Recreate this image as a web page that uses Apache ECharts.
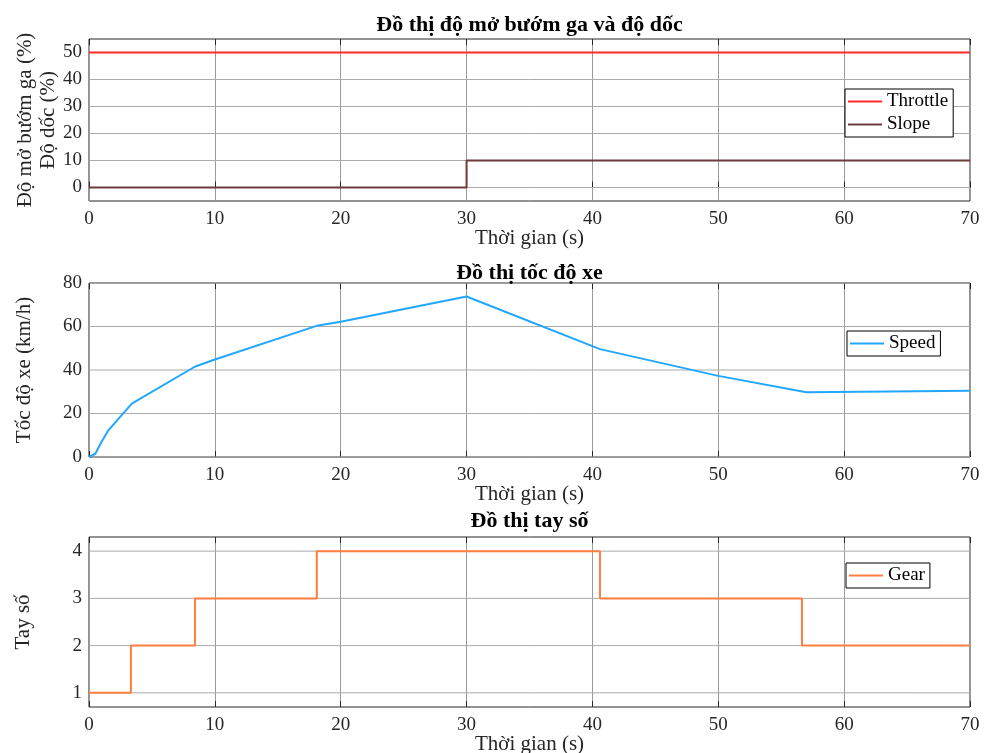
<!DOCTYPE html>
<html><head><meta charset="utf-8">
<script src="https://cdn.jsdelivr.net/npm/echarts@6/dist/echarts.min.js"></script>
<style>html,body{margin:0;padding:0;background:#fff}#c{width:985px;height:753px}</style>
</head><body><div id="c"></div>
<script>
// ---- data ----
const throttleT = [0, 70];
const throttleV = [50, 50];
const slopeT = [0, 30, 70];
const slopeV = [0, 10, 10];
const speedT = [0, 0.5, 0.9, 1.5, 3.4, 8.4, 10, 18.2, 20, 30, 40.6, 50, 57, 70];
const speedV = [0, 1.5, 6, 12, 24.5, 41.5, 44.8, 60.5, 62.2, 73.8, 49.6, 37.3, 29.8, 30.5];
const gearT = [0, 3.33, 8.42, 18.1, 40.6, 56.65, 70];
const gearV = [1, 2, 3, 4, 3, 2, 2];
const titles = ['Đồ thị độ mở bướm ga và độ dốc', 'Đồ thị tốc độ xe', 'Đồ thị tay số'];
const yNames = ['Độ mở bướm ga (%)\nĐộ dốc (%)', 'Tốc độ xe (km/h)', 'Tay số'];
const yTicks = [[0, 10, 20, 30, 40, 50], [0, 20, 40, 60, 80], [1, 2, 3, 4]];
const xName = 'Thời gian (s)';

const zip = (a, b) => a.map((x, i) => [x, b[i]]);
const FONT = 'Liberation Serif';
const TXT = '#262626';
const VGRID = '#9a9a9a';
const HGRID = '#ababab';

const grids = [
  {left: 89, right: 15, top: 39, height: 162},
  {left: 89, right: 15, top: 283, height: 174},
  {left: 89, right: 15, top: 537, height: 170}
].map(g => Object.assign({show: true, borderColor: TXT, borderWidth: 1, backgroundColor: '#fff', outerBoundsMode: 'none', containLabel: false}, g));

const yRange = [[-5, 55], [0, 80], [0.7, 4.3]];
const yGap = [29, 53, 54];

const tick = {show: true, inside: true, length: 6, lineStyle: {color: TXT, width: 1}};
const xAxes = [], yAxes = [];
for (let i = 0; i < 3; i++) {
  xAxes.push({
    type: 'value', gridIndex: i, min: 0, max: 70, interval: 10,
    name: xName, nameLocation: 'middle', nameGap: 27, nameMoveOverlap: false,
    nameTextStyle: {fontFamily: FONT, fontSize: 21, color: TXT},
    axisLine: {show: false},
    axisTick: tick,
    axisLabel: {fontFamily: FONT, fontSize: 19, color: TXT, margin: 9},
    splitLine: {show: true, lineStyle: {color: VGRID, width: 1}}
  });
  xAxes.push({
    type: 'value', gridIndex: i, min: 0, max: 70, interval: 10, position: 'top',
    axisLine: {show: false}, axisTick: tick,
    axisLabel: {show: false}, splitLine: {show: false}
  });
  const t = yTicks[i];
  yAxes.push({
    type: 'value', gridIndex: i, min: yRange[i][0], max: yRange[i][1],
    name: yNames[i], nameLocation: 'middle', nameRotate: 90, nameGap: yGap[i], nameMoveOverlap: false,
    nameTextStyle: {fontFamily: FONT, fontSize: 21, color: TXT, lineHeight: 23},
    axisLine: {show: false},
    axisTick: {show: false},
    axisLabel: {fontFamily: FONT, fontSize: 19, color: TXT, margin: 7, customValues: t},
    splitLine: {show: false}
  });
}

// horizontal grid lines at the tick values
const hGridSeries = [];
for (let i = 0; i < 3; i++) {
  yTicks[i].forEach(v => {
    hGridSeries.push({
      type: 'line', xAxisIndex: 2 * i, yAxisIndex: i, silent: true, symbol: 'none',
      data: [[0, v], [70, v]], lineStyle: {color: HGRID, width: 1}, z: 1
    });
  });
}

const LEG = {fontFamily: FONT, fontSize: 19, color: '#000', lineHeight: 22};
const legendBase = {orient: 'vertical', backgroundColor: '#fff', borderColor: '#000', borderWidth: 1,
  padding: [1.5, 5, 1.5, 3], itemGap: 1, itemWidth: 34, itemHeight: 14, textStyle: LEG,
  icon: 'path://M0,6L34,6L34,8L0,8Z'};

const option = {
  animation: false,
  backgroundColor: '#fff',
  title: titles.map((t, i) => ({
    text: t, left: 529.5, textAlign: 'center', top: [14, 262, 510][i], padding: 0,
    textStyle: {fontFamily: FONT, fontSize: 22, fontWeight: 'bold', color: '#000'}
  })),
  grid: grids,
  xAxis: xAxes,
  yAxis: yAxes,
  legend: [
    Object.assign({}, legendBase, {data: ['Throttle', 'Slope'], left: 845, top: 89}),
    Object.assign({}, legendBase, {data: ['Speed'], left: 847, top: 331}),
    Object.assign({}, legendBase, {data: ['Gear'], left: 846, top: 563})
  ],
  series: hGridSeries.concat([
    {name: 'Throttle', type: 'line', xAxisIndex: 0, yAxisIndex: 0, symbol: 'none', z: 5,
     data: zip(throttleT, throttleV), lineStyle: {color: '#ff2b2b', width: 2}, itemStyle: {color: '#ff2b2b'}},
    {name: 'Slope', type: 'line', xAxisIndex: 0, yAxisIndex: 0, symbol: 'none', step: 'end', z: 5,
     data: zip(slopeT, slopeV), lineStyle: {color: '#6e3b3b', width: 2}, itemStyle: {color: '#6e3b3b'}},
    {name: 'Speed', type: 'line', xAxisIndex: 2, yAxisIndex: 1, symbol: 'none', z: 5,
     data: zip(speedT, speedV), lineStyle: {color: '#22a7ff', width: 2}, itemStyle: {color: '#22a7ff'}},
    {name: 'Gear', type: 'line', xAxisIndex: 4, yAxisIndex: 2, symbol: 'none', step: 'end', z: 5,
     data: zip(gearT, gearV), lineStyle: {color: '#ff7f40', width: 2}, itemStyle: {color: '#ff7f40'}}
  ])
};
const chart = echarts.init(document.getElementById('c'), null, {renderer: 'canvas'});
chart.setOption(option);
</script>
</body></html>
